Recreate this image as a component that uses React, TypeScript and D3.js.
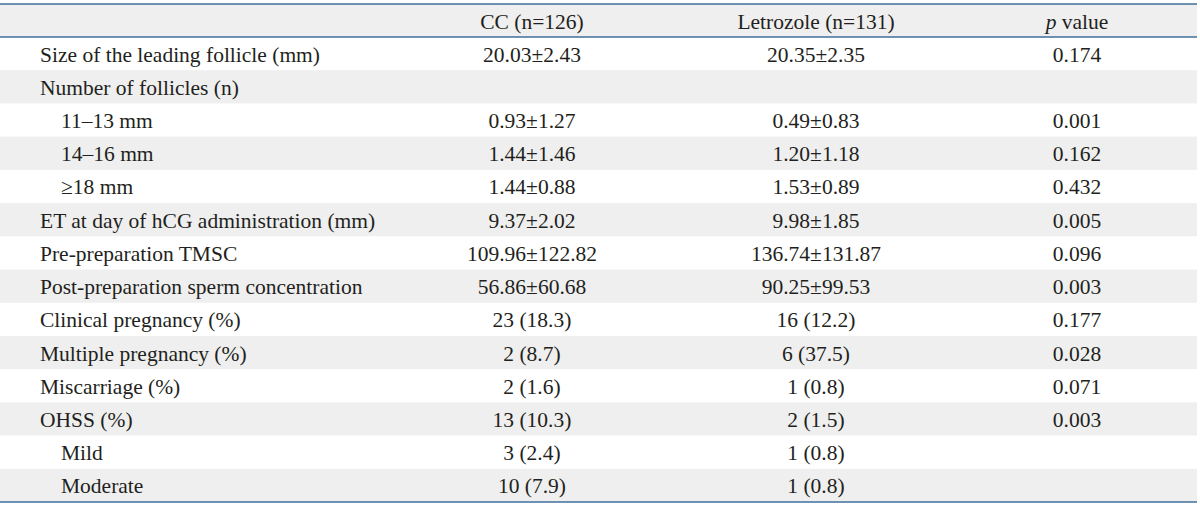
import React from "react";
import * as d3 from "d3";

const columnHeaders = ["", "CC (n=126)", "Letrozole (n=131)", "p value"];
const rowLabels = [
  "Size of the leading follicle (mm)",
  "Number of follicles (n)",
  "11–13 mm",
  "14–16 mm",
  "≥18 mm",
  "ET at day of hCG administration (mm)",
  "Pre-preparation TMSC",
  "Post-preparation sperm concentration",
  "Clinical pregnancy (%)",
  "Multiple pregnancy (%)",
  "Miscarriage (%)",
  "OHSS (%)",
  "Mild",
  "Moderate",
];
const rowIndented = [false, false, true, true, true, false, false, false, false, false, false, false, true, true];
const ccValues = [
  "20.03±2.43", "", "0.93±1.27", "1.44±1.46", "1.44±0.88", "9.37±2.02", "109.96±122.82",
  "56.86±60.68", "23 (18.3)", "2 (8.7)", "2 (1.6)", "13 (10.3)", "3 (2.4)", "10 (7.9)",
];
const letrozoleValues = [
  "20.35±2.35", "", "0.49±0.83", "1.20±1.18", "1.53±0.89", "9.98±1.85", "136.74±131.87",
  "90.25±99.53", "16 (12.2)", "6 (37.5)", "1 (0.8)", "2 (1.5)", "1 (0.8)", "1 (0.8)",
];
const pValues = [
  "0.174", "", "0.001", "0.162", "0.432", "0.005", "0.096",
  "0.003", "0.177", "0.028", "0.071", "0.003", "", "",
];

const W = 1200;
const H = 507;
const headerTop = 4;
const headerBottom = 37;
const tableBottom = 502;
const lineColor = "#3f6e9c";
const shade = "#efefef";
const textColor = "#231f20";
const font = "'Liberation Serif', 'Times New Roman', serif";
const fontSize = 21.5;

export default function App() {
  const y = d3
    .scaleBand<number>()
    .domain(d3.range(rowLabels.length))
    .range([headerBottom, tableBottom])
    .paddingInner(0)
    .paddingOuter(0);
  const colX = [40, 532, 816, 1077];
  const bw = y.bandwidth();
  const hy = (headerTop + headerBottom) / 2 + 1;

  return (
    <svg
      width={W}
      height={H}
      style={{ position: "absolute", left: 0, top: 0, background: "#fff" }}
      fontFamily={font}
      fontSize={fontSize}
      fill={textColor}
    >
      <rect x={0} y={headerTop} width={1197} height={headerBottom - headerTop} fill={shade} />
      {rowLabels.map((_, i) =>
        i % 2 === 1 ? (
          <rect key={"s" + i} x={0} y={y(i)} width={1197} height={bw} fill={shade} />
        ) : null
      )}
      <text x={colX[1]} y={hy} dy="0.35em" textAnchor="middle">
        {columnHeaders[1]}
      </text>
      <text x={colX[2]} y={hy} dy="0.35em" textAnchor="middle">
        {columnHeaders[2]}
      </text>
      <text x={colX[3]} y={hy} dy="0.35em" textAnchor="middle">
        <tspan fontStyle="italic">p</tspan>
        {columnHeaders[3].slice(1)}
      </text>
      {rowLabels.map((lab, i) => {
        const cy = (y(i) as number) + bw / 2 + 0.5;
        return (
          <g key={"r" + i}>
            <text x={rowIndented[i] ? 61 : colX[0]} y={cy} dy="0.35em">
              {lab}
            </text>
            <text x={colX[1]} y={cy} dy="0.35em" textAnchor="middle">
              {ccValues[i]}
            </text>
            <text x={colX[2]} y={cy} dy="0.35em" textAnchor="middle">
              {letrozoleValues[i]}
            </text>
            <text x={colX[3]} y={cy} dy="0.35em" textAnchor="middle">
              {pValues[i]}
            </text>
          </g>
        );
      })}
      <line x1={0} x2={1197} y1={headerTop} y2={headerTop} stroke={lineColor} strokeWidth={1.5} />
      <line x1={0} x2={1197} y1={headerBottom} y2={headerBottom} stroke={lineColor} strokeWidth={1.5} />
      <line x1={0} x2={1197} y1={tableBottom} y2={tableBottom} stroke={lineColor} strokeWidth={1.5} />
    </svg>
  );
}
